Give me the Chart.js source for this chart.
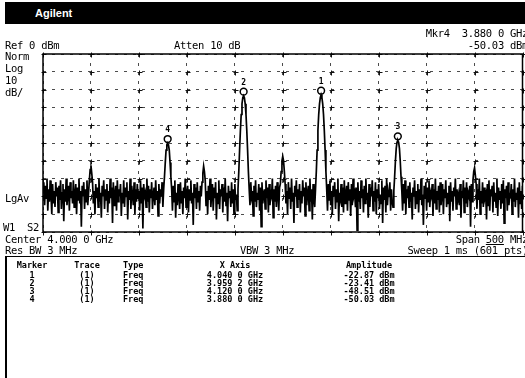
<!DOCTYPE html>
<html><head><meta charset="utf-8">
<script src="https://cdn.jsdelivr.net/npm/chart.js@4"></script>
<style>
html,body{margin:0;padding:0;background:#fff;overflow:hidden;}
#wrap{position:relative;width:525px;height:378px;overflow:hidden;background:#fff;}
canvas{position:absolute;left:0;top:0;}
.t{position:absolute;font-family:"DejaVu Sans Mono",monospace;font-size:10.5px;line-height:12px;color:#000;white-space:pre;letter-spacing:-0.3px;}
.tb{position:absolute;font-family:"DejaVu Sans Mono",monospace;font-size:8.5px;font-weight:bold;line-height:10px;color:#000;white-space:pre;}
#bar{position:absolute;left:5px;top:2px;width:530px;height:22px;background:#000;}
#brand{position:absolute;left:35px;top:7px;font-family:"Liberation Sans",Arial,sans-serif;font-weight:bold;font-size:11px;line-height:12px;color:#fff;}
#hline{position:absolute;left:5px;top:256px;width:525px;height:1px;background:#000;}
#vline{position:absolute;left:5px;top:256px;width:2px;height:130px;background:#000;}
</style></head>
<body>
<div id="wrap">
<canvas id="c" width="528" height="378"></canvas>
<div id="bar"></div><div id="brand">Agilent</div>
<div class="t" style="right:-3px;top:27px">Mkr4  3.880 0 GHz</div>
<div class="t" style="left:5px;top:39px">Ref 0 dBm</div>
<div class="t" style="left:174px;top:39px">Atten 10 dB</div>
<div class="t" style="right:-3px;top:39px">-50.03 dBm</div>
<div class="t" style="left:5px;top:50px">Norm</div>
<div class="t" style="left:5px;top:62px">Log</div>
<div class="t" style="left:5px;top:74px">10</div>
<div class="t" style="left:5px;top:86px">dB/</div>
<div class="t" style="left:5px;top:192px">LgAv</div>
<div class="t" style="left:3px;top:221px">W1  S2</div>
<div class="t" style="left:5px;top:233px">Center 4.000 0 GHz</div>
<div class="t" style="right:-3px;top:233px">Span <span style="text-decoration:underline">500</span> MHz</div>
<div class="t" style="left:5px;top:244px">Res BW 3 MHz</div>
<div class="t" style="left:240px;top:244px">VBW 3 MHz</div>
<div class="t" style="right:-3px;top:244px">Sweep 1 ms (601 pts)</div>
<div id="hline"></div><div id="vline"></div>
<div id="table"></div>
</div>
<script>
// ---- data ----
const START_GHZ = 3.75;
const SPAN_GHZ = 0.5;
const xGridGHz = [3.75,3.80,3.85,3.90,3.95,4.00,4.05,4.10,4.15,4.20,4.25];
const yGridDbm = [0,-10,-20,-30,-40,-50,-60,-70,-80,-90,-100];
const traceDbm = [
-78,-72,-85,-74,-81,-70,-88,-76,-83,-71,-79,-90,-73,-84,-77,-86,-72,-80,-75,-89,
-74,-82,-71,-87,-78,-73,-94,-76,-83,-70,-85,-79,-74,-88,-72,-81,-77,-84,-71,-86,
-79,-73,-90,-75,-82,-70,-84,-77,-97,-74,-80,-72,-87,-76,-83,-71,-85,-78,-71,-65,
-62.5,-67,-72,-84,-77,-90,-73,-81,-75,-86,-70,-83,-78,-92,-74,-80,-71,-87,-76,-82,
-73,-89,-77,-84,-70,-81,-75,-95,-72,-85,-79,-74,-88,-71,-83,-76,-80,-73,-91,-78,
-84,-71,-86,-75,-80,-72,-93,-77,-82,-70,-87,-74,-79,-85,-72,-90,-76,-83,-73,-81,
-77,-88,-71,-84,-75,-98,-73,-80,-78,-86,-70,-83,-74,-89,-76,-81,-72,-87,-79,-75,
-85,-71,-82,-77,-91,-73,-84,-76,-80,-72,-86,-76,-69,-61,-54,-51,-50.03,-51,-54,-61,
-69,-76,-88,-74,-83,-71,-92,-78,-85,-73,-80,-87,-72,-84,-77,-90,-75,-81,-70,-86,
-79,-74,-89,-76,-82,-71,-84,-78,-96,-73,-81,-75,-87,-72,-83,-77,-88,-74,-80,-72,
-67,-63,-66,-71,-85,-77,-90,-74,-82,-70,-86,-79,-73,-88,-75,-81,-72,-93,-78,-84,
-71,-87,-76,-80,-73,-89,-75,-83,-70,-85,-78,-94,-74,-81,-77,-86,-72,-84,-76,-90,
-73,-82,-79,-88,-76,-66,-54,-43,-34,-28,-24.5,-23.41,-24.5,-28,-34,-43,-54,-66,-76,-85,
-72,-80,-77,-91,-74,-83,-71,-86,-78,-82,-73,-88,-75,-97,-72,-84,-79,-76,-87,-71,
-81,-75,-89,-73,-85,-78,-80,-70,-92,-76,-83,-74,-86,-72,-79,-88,-75,-73,-66,-60,
-57.5,-60,-66,-73,-84,-77,-90,-72,-81,-75,-87,-70,-83,-78,-95,-74,-80,-71,-86,-76,
-82,-73,-89,-77,-84,-71,-80,-75,-91,-72,-85,-78,-74,-88,-70,-83,-76,-93,-73,-81,
-86,-76,-66,-54,-43,-34,-28,-24.5,-22.87,-24.5,-28,-34,-43,-54,-66,-76,-88,-73,-82,-71,
-85,-77,-90,-74,-80,-72,-87,-76,-83,-70,-94,-78,-81,-73,-86,-75,-89,-71,-84,-79,
-74,-88,-72,-82,-76,-91,-73,-85,-70,-80,-78,-86,-75,-99,-72,-83,-77,-87,-71,-81,
-76,-89,-74,-84,-70,-82,-78,-92,-73,-86,-75,-80,-71,-88,-77,-83,-72,-90,-76,-81,
-73,-87,-79,-84,-71,-95,-75,-82,-74,-89,-70,-85,-77,-80,-72,-88,-76,-83,-86,-77,
-69,-60,-53,-49.5,-48.51,-49.5,-53,-60,-69,-77,-88,-73,-84,-71,-90,-76,-81,-74,-86,-72,
-83,-78,-93,-75,-80,-71,-87,-77,-84,-73,-89,-76,-82,-70,-85,-79,-96,-74,-81,-72,
-88,-75,-83,-71,-86,-78,-80,-73,-91,-76,-84,-70,-87,-77,-82,-74,-89,-72,-85,-79,
-73,-90,-76,-81,-71,-86,-78,-84,-74,-94,-72,-83,-77,-88,-75,-80,-70,-87,-76,-82,
-79,-85,-73,-92,-77,-81,-71,-89,-75,-84,-72,-86,-78,-80,-74,-97,-73,-83,-71,-66,
-64,-68,-73,-87,-76,-82,-70,-90,-77,-84,-72,-86,-75,-81,-79,-93,-73,-85,-71,-88,
-76,-80,-74,-89,-72,-83,-78,-86,-70,-91,-75,-82,-77,-87,-73,-84,-71,-95,-76,-81,
-74,-88,-72,-85,-79,-80,-73,-90,-76,-83,-70,-86,-78,-82,-75,-92,-72,-84,-77,-87,
-74
];
const markerNum = [1,2,3,4];
const markerTrace = ["(1)","(1)","(1)","(1)"];
const markerType = ["Freq","Freq","Freq","Freq"];
const markerFreqGHz = [4.0400, 3.9592, 4.1200, 3.8800];
const markerAmpDbm = [-22.87, -23.41, -48.51, -50.03];
const tableHeads = ["Marker","Trace","Type","X Axis","Amplitude"];

// ---- table text ----
const tbl = document.getElementById('table');
function cell(txt, x, y, align, w){
  const d = document.createElement('div');
  d.className = 'tb'; d.textContent = txt;
  d.style.top = (y-5)+'px';
  if(align==='left'){ d.style.left = x+'px'; }
  else { d.style.left = (x-w/2)+'px'; d.style.width = w+'px'; d.style.textAlign='center'; }
  tbl.appendChild(d);
}
const colX = [32, 87, 123, 235, 369];
const colAlign = ['c','c','left','c','c'];
const headY = 265, rowY0 = 275, rowDY = 8;
tableHeads.forEach((h,i)=>cell(h, colX[i], headY, colAlign[i], 80));
function fmtFreq(f){ const s=f.toFixed(4); return s.slice(0,5)+' '+s.slice(5)+' GHz'; }
markerNum.forEach((m,r)=>{
  const y = rowY0 + r*rowDY;
  const vals = [String(m), markerTrace[r], markerType[r], fmtFreq(markerFreqGHz[r]), markerAmpDbm[r].toFixed(2)+' dBm'];
  vals.forEach((v,i)=>cell(v, colX[i], y, colAlign[i], 80));
});

// ---- chart ----
const traceXY = traceDbm.map((v,i)=>({x: START_GHZ + SPAN_GHZ*i/(traceDbm.length-1), y: v}));
const markerXY = markerFreqGHz.map((f,i)=>({x:f, y:markerAmpDbm[i]}));

const framePlugin = {
  id:'frame',
  beforeDatasetsDraw(chart){
    const {ctx, chartArea:a, scales:{x,y}} = chart;
    ctx.save();
    ctx.strokeStyle='#111'; ctx.lineWidth=1;
    xGridGHz.forEach(f=>{
      const px=Math.round(x.getPixelForValue(f))+0.5;
      yGridDbm.forEach(v=>{
        const py=Math.round(y.getPixelForValue(v))+0.5;
        ctx.beginPath(); ctx.moveTo(px-2,py); ctx.lineTo(px+3,py);
        ctx.moveTo(px,py-2); ctx.lineTo(px,py+3); ctx.stroke();
      });
    });
    ctx.lineWidth=1.5; ctx.strokeStyle='#000';
    ctx.strokeRect(a.left,a.top,a.right-a.left,a.bottom-a.top);
    ctx.restore();
  },
  beforeDatasetDraw(chart,args){
    if(args.index===1){ chart.ctx.save(); chart.ctx.translate(0,-4); }
  },
  afterDatasetDraw(chart,args){
    if(args.index===1){
      const ctx=chart.ctx; const {x,y}=chart.scales;
      ctx.font='bold 8px "DejaVu Sans Mono"'; ctx.fillStyle='#000';
      ctx.textAlign='center'; ctx.textBaseline='middle';
      markerNum.forEach((m,i)=>{
        ctx.fillText(String(m), x.getPixelForValue(markerFreqGHz[i]), y.getPixelForValue(markerAmpDbm[i])-9);
      });
      ctx.restore();
    }
  }
};

new Chart(document.getElementById('c'), {
  type:'line',
  data:{datasets:[
    {data:traceXY, borderColor:'#000', borderWidth:1.7, pointRadius:0, tension:0, fill:false, borderJoinStyle:'miter'},
    {type:'scatter', data:markerXY, showLine:false, pointStyle:'circle', pointRadius:3.4, borderWidth:1.5, borderColor:'#000', backgroundColor:'#fff'}
  ]},
  options:{
    responsive:false, animation:false, events:[],
    layout:{padding:{left:43,top:54,right:2,bottom:146}},
    plugins:{legend:{display:false}, tooltip:{enabled:false}},
    scales:{
      x:{type:'linear', min:START_GHZ, max:START_GHZ+SPAN_GHZ,
        afterBuildTicks:s=>{s.ticks=xGridGHz.map(v=>({value:v}));},
        ticks:{display:false}, grid:{drawTicks:false, color:'rgba(0,0,0,0.7)', lineWidth:1},
        border:{display:false, dash:[3,6]}},
      y:{type:'linear', min:-100, max:0,
        afterBuildTicks:s=>{s.ticks=yGridDbm.map(v=>({value:v}));},
        ticks:{display:false}, grid:{drawTicks:false, color:'rgba(0,0,0,0.7)', lineWidth:1},
        border:{display:false, dash:[3,6]}}
    }
  },
  plugins:[framePlugin]
});
</script>
</body></html>
